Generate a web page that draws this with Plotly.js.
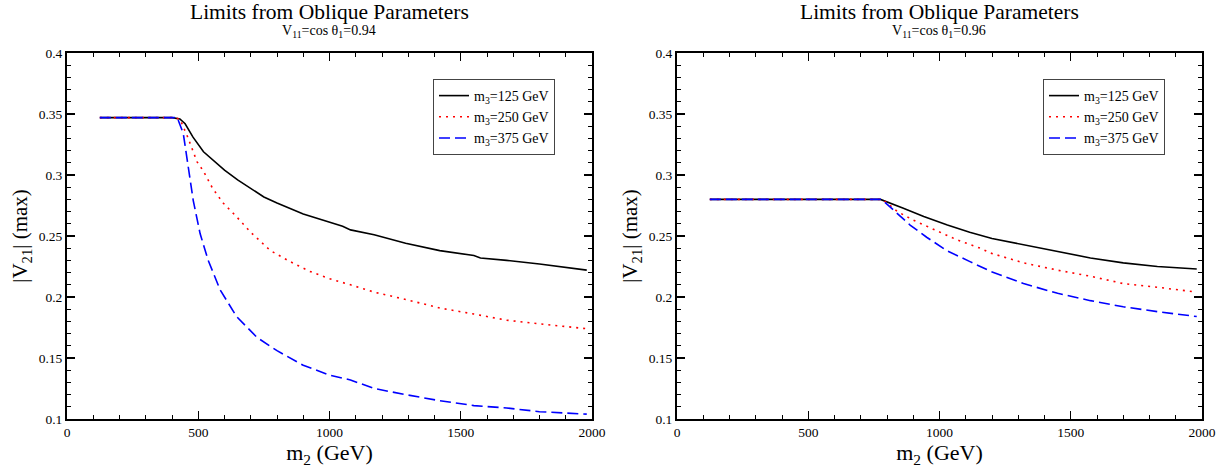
<!DOCTYPE html>
<html>
<head>
<meta charset="utf-8">
<script src="https://cdn.plot.ly/plotly-3.0.1.min.js"></script>
<style>html,body{margin:0;padding:0;background:#fff;}#chart{width:1226px;height:472px;}</style>
</head>
<body>
<div id="chart"></div>
<script>
// ---- Data: left panel, V11 = cos θ1 = 0.94 ----
const leftBlackX = [125, 200, 300, 400, 430, 450, 480, 520, 600, 650, 750, 800, 900, 1000, 1050, 1080, 1170, 1290, 1420, 1550, 1575, 1675, 1800, 1980];
const leftBlackY = [0.347, 0.347, 0.347, 0.347, 0.346, 0.342, 0.331, 0.319, 0.304, 0.296, 0.282, 0.277, 0.268, 0.261, 0.258, 0.255, 0.251, 0.244, 0.238, 0.234, 0.232, 0.230, 0.227, 0.222];
const leftRedX = [125, 200, 300, 400, 430, 460, 495, 520, 555, 595, 645, 700, 775, 850, 925, 1000, 1080, 1170, 1290, 1420, 1550, 1675, 1800, 1980];
const leftRedY = [0.347, 0.347, 0.347, 0.347, 0.346, 0.331, 0.311, 0.303, 0.289, 0.277, 0.266, 0.253, 0.238, 0.229, 0.221, 0.215, 0.210, 0.204, 0.198, 0.191, 0.186, 0.181, 0.178, 0.174];
const leftBlueX = [125, 200, 300, 400, 420, 443, 462, 481, 507, 538, 583, 646, 723, 800, 900, 1000, 1080, 1170, 1290, 1420, 1550, 1675, 1800, 1980];
const leftBlueY = [0.347, 0.347, 0.347, 0.347, 0.347, 0.334, 0.307, 0.279, 0.252, 0.230, 0.206, 0.184, 0.167, 0.156, 0.144, 0.136, 0.132, 0.125, 0.120, 0.115, 0.111, 0.109, 0.106, 0.104];

// ---- Data: right panel, V11 = cos θ1 = 0.96 ----
const rightBlackX = [125, 300, 500, 700, 775, 860, 940, 1030, 1115, 1200, 1320, 1450, 1575, 1700, 1830, 1980];
const rightBlackY = [0.28, 0.28, 0.28, 0.28, 0.28, 0.273, 0.266, 0.259, 0.253, 0.248, 0.243, 0.237, 0.232, 0.228, 0.225, 0.223];
const rightRedX = [125, 300, 500, 700, 775, 795, 840, 900, 980, 1065, 1155, 1195, 1320, 1450, 1575, 1700, 1830, 1980];
const rightRedY = [0.28, 0.28, 0.28, 0.28, 0.28, 0.278, 0.270, 0.263, 0.255, 0.247, 0.240, 0.236, 0.228, 0.222, 0.217, 0.211, 0.208, 0.204];
const rightBlueX = [125, 300, 500, 700, 775, 790, 837, 888, 951, 1028, 1116, 1195, 1320, 1450, 1575, 1700, 1830, 1980];
const rightBlueY = [0.28, 0.28, 0.28, 0.28, 0.28, 0.278, 0.269, 0.259, 0.249, 0.238, 0.229, 0.221, 0.211, 0.203, 0.197, 0.192, 0.188, 0.184];

// ---- Labels ----
const seriesNames = ['m<sub>3</sub>=125 GeV', 'm<sub>3</sub>=250 GeV', 'm<sub>3</sub>=375 GeV'];
const panelTitle = 'Limits from Oblique Parameters';
const panelSubtitles = ['V<sub>11</sub>=cos θ<sub>1</sub>=0.94', 'V<sub>11</sub>=cos θ<sub>1</sub>=0.96'];
const xTickVals = [0, 500, 1000, 1500, 2000];
const xTickText = ['0', '500', '1000', '1500', '2000'];
const yTickVals = [0.1, 0.15, 0.2, 0.25, 0.3, 0.35, 0.4];
const yTickText = ['0.1', '0.15', '0.2', '0.25', '0.3', '0.35', '0.4'];
const xTitle = 'm<sub>2</sub> (GeV)';
const yTitle = '|V<sub>21</sub>| (max)';

const FONT = 'Liberation Serif, Times New Roman, serif';
const styles = [
  {color: '#000000', width: 1.6, dash: 'solid'},
  {color: '#ff0000', width: 1.6, dash: '2px,5px'},
  {color: '#0000ff', width: 1.6, dash: '11px,5px'}
];

const panels = [
  {xs: [leftBlackX, leftRedX, leftBlueX], ys: [leftBlackY, leftRedY, leftBlueY], xa: 'x', ya: 'y', legend: 'legend'},
  {xs: [rightBlackX, rightRedX, rightBlueX], ys: [rightBlackY, rightRedY, rightBlueY], xa: 'x2', ya: 'y2', legend: 'legend2'}
];

const traces = [];
panels.forEach(p => {
  for (let i = 0; i < 3; i++) {
    traces.push({
      x: p.xs[i], y: p.ys[i], xaxis: p.xa, yaxis: p.ya,
      type: 'scatter', mode: 'lines', name: seriesNames[i],
      legend: p.legend,
      line: {color: styles[i].color, width: styles[i].width, dash: styles[i].dash}
    });
  }
});

function xAxis(domain, anchor) {
  return {
    domain: domain, anchor: anchor, range: [0, 2000],
    tickvals: xTickVals, ticktext: xTickText,
    ticks: 'inside', ticklen: 8, tickwidth: 1.2, tickcolor: '#000',
    minor: {dtick: 100, ticks: 'inside', ticklen: 4, tickwidth: 1, tickcolor: '#000', showgrid: false},
    showline: true, linecolor: '#000', linewidth: 2, mirror: 'allticks',
    showgrid: false, zeroline: false,
    tickfont: {family: FONT, size: 13.5, color: '#000'},
    title: {text: xTitle, font: {family: FONT, size: 22, color: '#000'}, standoff: 3}
  };
}
function yAxis(domain, anchor) {
  return {
    domain: domain, anchor: anchor, range: [0.1, 0.4],
    tickvals: yTickVals, ticktext: yTickText,
    ticks: 'inside', ticklen: 8, tickwidth: 1.2, tickcolor: '#000',
    minor: {dtick: 0.01, tick0: 0.1, ticks: 'inside', ticklen: 4, tickwidth: 1, tickcolor: '#000', showgrid: false},
    showline: true, linecolor: '#000', linewidth: 2, mirror: 'allticks',
    showgrid: false, zeroline: false,
    tickfont: {family: FONT, size: 13.5, color: '#000'},
    title: {text: yTitle, font: {family: FONT, size: 21, color: '#000'}, standoff: 5}
  };
}

const yDom = [53 / 472, 419 / 472];
const legendBase = {
  bgcolor: '#fff', bordercolor: '#444', borderwidth: 1,
  font: {family: FONT, size: 14, color: '#000'},
  xanchor: 'left', yanchor: 'top', tracegroupgap: 0
};

const annotations = [];
[[67, 592], [677, 1202]].forEach((px, k) => {
  const cx = (px[0] + px[1]) / 2 / 1226;
  annotations.push({xref: 'paper', yref: 'paper', x: cx, y: 1 - 12 / 472, xanchor: 'center', yanchor: 'middle',
    text: panelTitle, showarrow: false, font: {family: FONT, size: 21.5, color: '#000'}});
  annotations.push({xref: 'paper', yref: 'paper', x: cx, y: 1 - 31 / 472, xanchor: 'center', yanchor: 'middle',
    text: panelSubtitles[k], showarrow: false, font: {family: FONT, size: 14, color: '#000'}});
});

const layout = {
  width: 1226, height: 472,
  margin: {l: 0, r: 0, t: 0, b: 0},
  paper_bgcolor: '#fff', plot_bgcolor: '#fff',
  showlegend: true,
  xaxis: xAxis([67 / 1226, 592 / 1226], 'y'),
  yaxis: yAxis(yDom, 'x'),
  xaxis2: xAxis([677 / 1226, 1202 / 1226], 'y2'),
  yaxis2: yAxis(yDom, 'x2'),
  legend: Object.assign({}, legendBase, {x: 433 / 1226, y: 1 - 79 / 472}),
  legend2: Object.assign({}, legendBase, {x: 1043 / 1226, y: 1 - 79 / 472}),
  annotations: annotations
};

Plotly.newPlot('chart', traces, layout, {displayModeBar: false, staticPlot: true});
</script>
</body>
</html>
